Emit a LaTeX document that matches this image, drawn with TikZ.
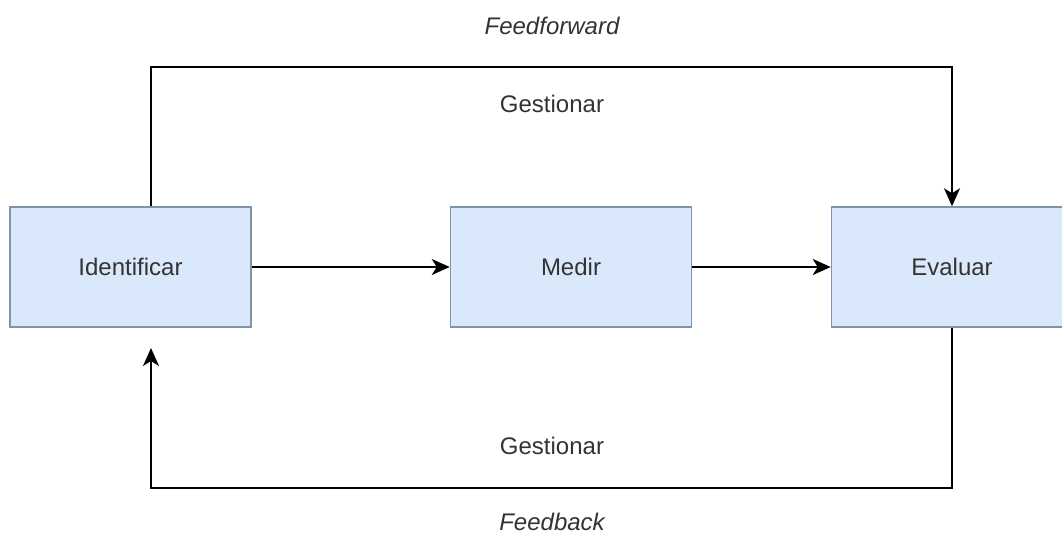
\documentclass[tikz,border=0pt]{standalone}
\usepackage{fontspec}
\setmainfont{Liberation Sans}
\usetikzlibrary{arrows.meta}
\definecolor{boxfill}{HTML}{DAE8FC}
\definecolor{boxline}{HTML}{7F93AB}
\definecolor{txt}{HTML}{333333}
\begin{document}
\begin{tikzpicture}[x=1pt,y=-1pt,
  stage/.style={draw=boxline, fill=boxfill, line width=1.5pt,
    minimum width=241pt, minimum height=120pt, inner sep=0pt,
    text=txt, font=\fontsize{24pt}{28pt}\selectfont},
  lbl/.style={text=txt, inner sep=0pt, font=\fontsize{24pt}{28pt}\selectfont},
  flow/.style={draw=black, line width=2pt,
    -{Stealth[length=18pt, width=16pt, inset=5pt]}}]
\useasboundingbox (0,0) rectangle (1062,538);
\fill[white] (0,0) rectangle (1062,538);

\node[stage] (ident) at (130.5,267) {Identificar};
\node[stage] (medir) at (571,267) {Medir};
\node[stage] (eval)  at (952,267) {Evaluar};

\coordinate (fftop) at (0,67);
\coordinate (fbbot) at (0,488);
\coordinate (fbend) at (151,348);

\draw[flow] (ident) -- (medir);
\draw[flow] (medir) -- (eval);

% feedforward loop over the top
\draw[flow] ([xshift=20.5pt]ident.north) |- (fftop -| eval.north) -- (eval.north);
% feedback loop underneath
\draw[flow] (eval.south) |- (fbbot -| fbend) -- (fbend);

\node[lbl, font=\fontsize{24pt}{28pt}\selectfont\itshape] (ffl) at (552,26) {Feedforward};
\node[lbl] (g1) at (552,104) {Gestionar};
\node[lbl] (g2) at (552,446) {Gestionar};
\node[lbl, font=\fontsize{24pt}{28pt}\selectfont\itshape] (fbl) at (552,522) {Feedback};
\end{tikzpicture}
\end{document}
